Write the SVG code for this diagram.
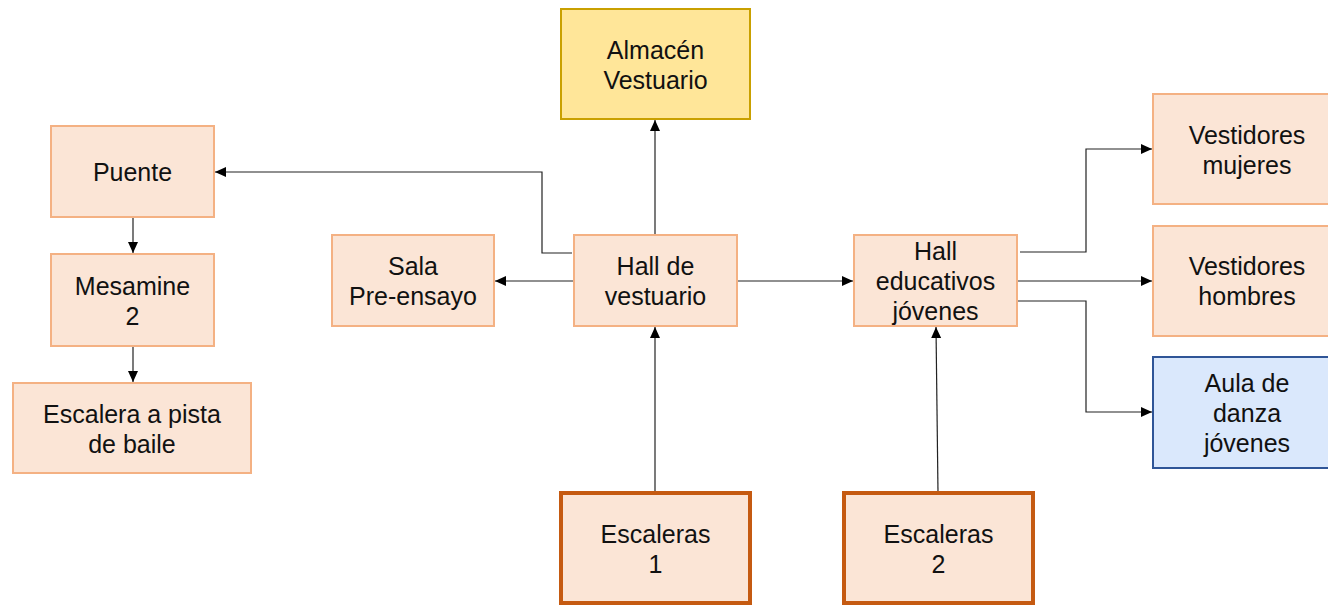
<svg xmlns="http://www.w3.org/2000/svg" width="1328" height="605" viewBox="0 0 1328 605">
<style>
.n{fill:#fbe5d6;stroke:#f4b183;stroke-width:2}
.y{fill:#ffe699;stroke:#c9a000;stroke-width:2}
.b{fill:#dae8fc;stroke:#2f5597;stroke-width:2}
.s{fill:#fbe5d6;stroke:#c55a11;stroke-width:4}
text{font-family:"Liberation Sans",Arial,sans-serif;font-size:25px;fill:#111;text-anchor:middle}
.c path{fill:none;stroke:#222;stroke-width:1.2}
</style>
<defs>
<marker id="a" markerWidth="12" markerHeight="12" refX="11" refY="5.5" orient="auto" markerUnits="userSpaceOnUse">
<path d="M0,0.5 L11,5.5 L0,10.5 Z" fill="#000"/>
</marker>
</defs>
<g class="c">
<path d="M655,235 V120" marker-end="url(#a)"/>
<path d="M574,281 H495" marker-end="url(#a)"/>
<path d="M572,253 H542 V172 H215" marker-end="url(#a)"/>
<path d="M737,281 H853" marker-end="url(#a)"/>
<path d="M1020,252 H1086 V149 H1152" marker-end="url(#a)"/>
<path d="M1017,281 H1152" marker-end="url(#a)"/>
<path d="M1017,301 H1086 V412 H1152" marker-end="url(#a)"/>
<path d="M655,493 V327" marker-end="url(#a)"/>
<path d="M938,493 L936,327" marker-end="url(#a)"/>
<path d="M133,218 V253" marker-end="url(#a)"/>
<path d="M133,347 V382" marker-end="url(#a)"/>
</g>
<g id="almacen"><rect class="y" x="561" y="9" width="189" height="110"/><text x="655.5" y="59">Almacén</text><text x="655.5" y="89">Vestuario</text></g>
<g id="puente"><rect class="n" x="51" y="126" width="163" height="91"/><text x="132.5" y="181">Puente</text></g>
<g id="mesamine"><rect class="n" x="51" y="254" width="163" height="92"/><text x="132.5" y="295">Mesamine</text><text x="132.5" y="325">2</text></g>
<g id="escalera-pista"><rect class="n" x="13" y="383" width="238" height="90"/><text x="132" y="423">Escalera a pista</text><text x="132" y="453">de baile</text></g>
<g id="sala"><rect class="n" x="332" y="235" width="162" height="91"/><text x="413" y="275">Sala</text><text x="413" y="305">Pre-ensayo</text></g>
<g id="hall-vestuario"><rect class="n" x="574" y="235" width="163" height="91"/><text x="655.5" y="275">Hall de</text><text x="655.5" y="305">vestuario</text></g>
<g id="hall-educativos"><rect class="n" x="854" y="235" width="163" height="91"/><text x="935.5" y="260">Hall</text><text x="935.5" y="290">educativos</text><text x="935.5" y="320">jóvenes</text></g>
<g id="vest-mujeres"><rect class="n" x="1153" y="94" width="188" height="110"/><text x="1247" y="144">Vestidores</text><text x="1247" y="174">mujeres</text></g>
<g id="vest-hombres"><rect class="n" x="1153" y="226" width="188" height="110"/><text x="1247" y="275">Vestidores</text><text x="1247" y="305">hombres</text></g>
<g id="aula"><rect class="b" x="1153" y="357" width="188" height="111"/><text x="1247" y="392">Aula de</text><text x="1247" y="422">danza</text><text x="1247" y="452">jóvenes</text></g>
<g id="escaleras1"><rect class="s" x="561" y="493" width="189" height="110"/><text x="655.5" y="543">Escaleras</text><text x="655.5" y="573">1</text></g>
<g id="escaleras2"><rect class="s" x="844" y="493" width="189" height="110"/><text x="938.5" y="543">Escaleras</text><text x="938.5" y="573">2</text></g>
</svg>
